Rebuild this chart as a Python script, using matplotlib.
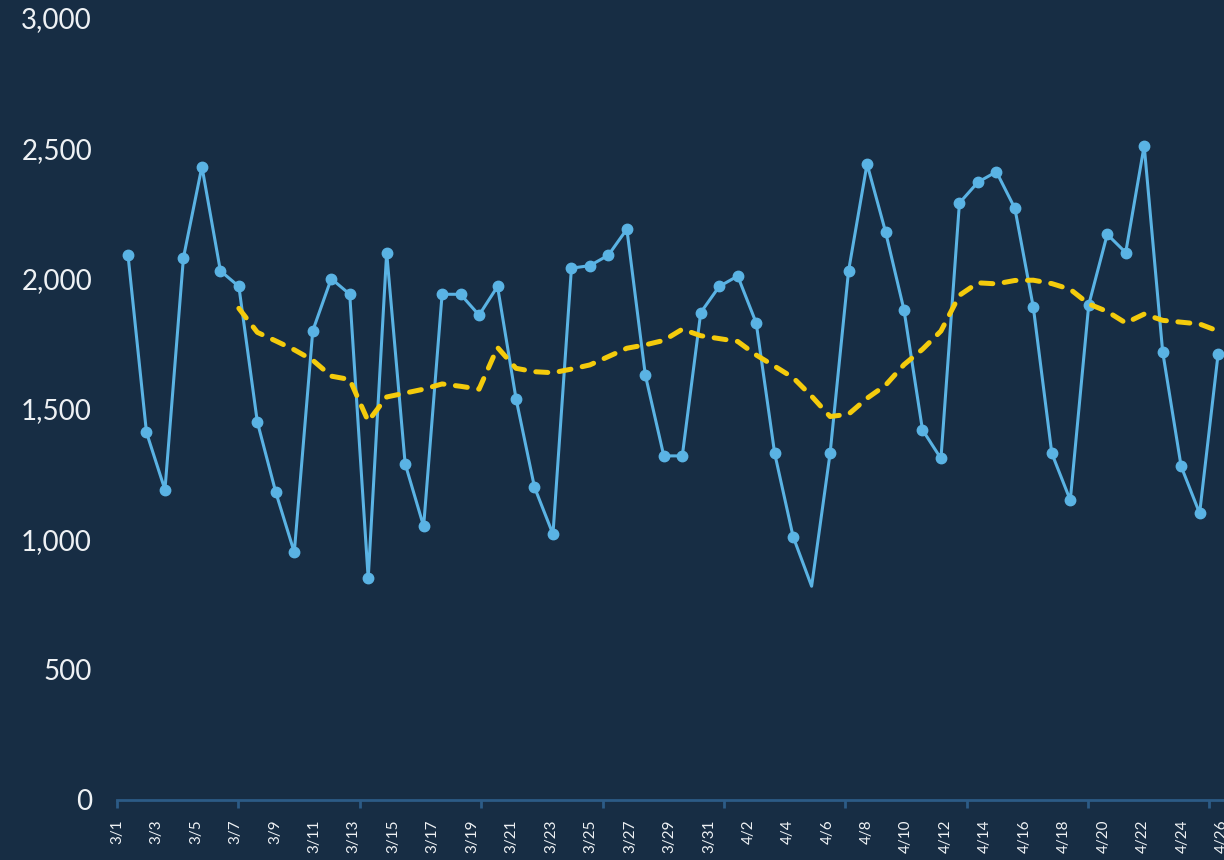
import matplotlib.pyplot as plt

# daily values, 3/1 .. 4/29
visits = [2090, 1410, 1190, 2080, 2430, 2030, 1970, 1450, 1180, 950,
          1800, 2000, 1940, 850, 2100, 1290, 1050, 1940, 1940, 1860,
          1970, 1540, 1200, 1020, 2040, 2050, 2090, 2190, 1630, 1320,
          1320, 1870, 1970, 2010, 1830, 1330, 1010, 820, 1330, 2030,
          2440, 2180, 1880, 1420, 1310, 2290, 2370, 2410, 2270, 1890,
          1330, 1150, 1900, 2170, 2100, 2510, 1720, 1280, 1100, 1710]

# 7-day average, starts at 3/7
avg7 = [1886, 1794, 1761, 1727, 1687, 1626, 1613, 1453, 1546, 1561,
        1576, 1596, 1587, 1576, 1736, 1656, 1643, 1639, 1653, 1669,
        1701, 1733, 1746, 1763, 1806, 1781, 1770, 1759, 1707, 1664,
        1620, 1549, 1471, 1480, 1541, 1591, 1670, 1729, 1799, 1936,
        1984, 1980, 1993, 1994, 1981, 1959, 1903, 1874, 1830, 1864,
        1840, 1833, 1826, 1799]

tick_labels = ["3/1", "3/3", "3/5", "3/7", "3/9", "3/11", "3/13", "3/15",
               "3/17", "3/19", "3/21", "3/23", "3/25", "3/27", "3/29", "3/31",
               "4/2", "4/4", "4/6", "4/8", "4/10", "4/12", "4/14", "4/16",
               "4/18", "4/20", "4/22", "4/24", "4/26"]

BG = "#172d44"
AXIS = "#2c5b86"
TXT = "#eef1f4"
plt.rcParams["font.family"] = ["Lato", "DejaVu Sans"]

fig = plt.figure(figsize=(12.24, 8.6), dpi=100, facecolor=BG)
ax = fig.add_axes([0.0956, 0.0698, 0.9044, 0.9093], facecolor=BG)

x = list(range(len(visits)))
ax.plot(x, visits, color="#5ab3e4", lw=2.2, marker="o", ms=7.5,
        markevery=[i for i in x if i != 37], zorder=2)
ax.plot(x[6:], avg7, color="#f4cb0c", lw=3.6, ls=(0, (2.4, 2.3)),
        dash_capstyle="round", solid_joinstyle="round", zorder=3)

ax.set_ylim(0, 3000)
x_left, x_right = -0.595, 59.32
ax.set_xlim(x_left, x_right)

# label axis and tick marks run on their own spacing
lab_step = 19.73 / 18.475
ax.xaxis.remove_overlapping_locs = False
ax.set_xticks([x_left + i * 6.57 for i in range(10)])
ax.set_xticklabels([])
ax.set_xticks([x_left + 2 * i * lab_step for i in range(len(tick_labels))], minor=True)
ax.set_xticklabels(tick_labels, minor=True, rotation=90, fontsize=11, color=TXT)
ax.tick_params(axis="x", which="major", length=6, width=2, color=AXIS)
ax.tick_params(axis="x", which="minor", length=0, pad=14)

ax.set_yticks([0, 500, 1000, 1500, 2000, 2500, 3000])
ax.set_yticklabels(["0", "500", "1,000", "1,500", "2,000", "2,500", "3,000"],
                   fontsize=20, color=TXT)
ax.tick_params(axis="y", length=0, pad=18)

for s in ["top", "right", "left"]:
    ax.spines[s].set_visible(False)
ax.spines["bottom"].set_color(AXIS)
ax.spines["bottom"].set_linewidth(2)

fig.savefig("out.png", dpi=100, facecolor=BG)
